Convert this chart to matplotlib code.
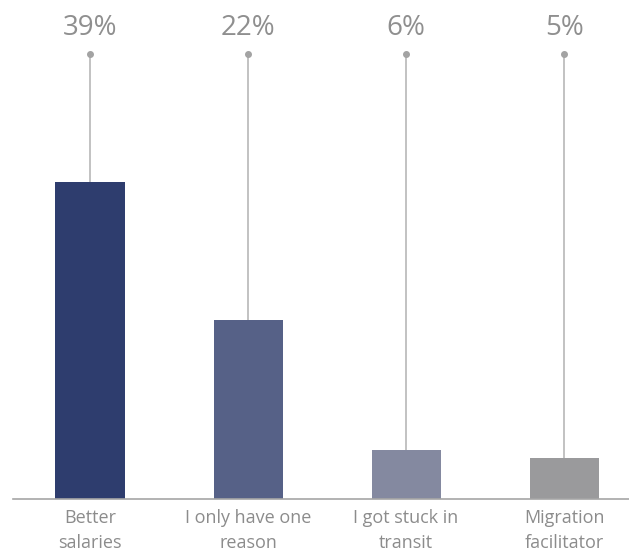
import matplotlib
matplotlib.use("Agg")
import matplotlib.pyplot as plt

categories = ["Better\nsalaries", "I only have one\nreason", "I got stuck in\ntransit",
              "Migration\nfacilitator"]
values = [39, 22, 6, 5]
colors = ["#2e3d6e", "#566187", "#8489a0", "#9a9a9c"]

plt.rcParams["font.family"] = ["Open Sans", "DejaVu Sans"]

fig = plt.figure(figsize=(6.29, 5.57), dpi=100, facecolor="white")
ax = fig.add_axes([13 / 629, 58 / 557, 616 / 629, 445 / 557])

top = 54.75
x = list(range(len(values)))
ax.bar(x, values, width=0.437, color=colors, zorder=2)

# stems from each bar up to a marker, with the share printed above
for xi, v in zip(x, values):
    ax.plot([xi, xi], [v, top], color="#bdbdbd", lw=1.3, zorder=1, clip_on=False)
    ax.plot([xi], [top], "o", color="#a3a3a3", ms=4, clip_on=False, zorder=3)
    ax.annotate(f"{v}%", (xi, top), xytext=(0, 19), textcoords="offset points",
                ha="center", va="center", fontsize=20, color="#8f8f8f")

ax.set_xlim(-0.487, 3.41)
ax.set_ylim(0, top)
ax.set_xticks(x)
ax.set_xticklabels(categories, fontsize=13, color="#8c8c8c", linespacing=1.5)
ax.tick_params(axis="x", length=0, pad=7)
ax.set_yticks([])
for s in ["top", "right", "left"]:
    ax.spines[s].set_visible(False)
ax.spines["bottom"].set_color("#a6a6a6")
ax.spines["bottom"].set_linewidth(1.2)

fig.savefig("out.png", dpi=100)
